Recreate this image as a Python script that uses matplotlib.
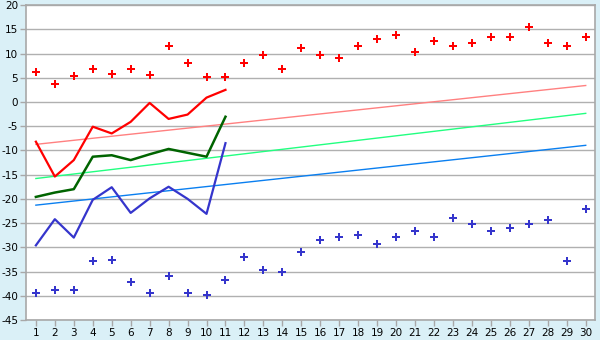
import matplotlib
matplotlib.use("Agg")
import matplotlib.pyplot as plt

plt.rcParams["axes.unicode_minus"] = False

days = list(range(1, 31))
max_pts = [6.1, 3.8, 5.3, 6.9, 5.7, 6.9, 5.5, 11.5, 8.0, 5.1, 5.1, 8.0, 9.6, 6.9, 11.1,
           9.6, 9.0, 11.5, 13.1, 13.9, 10.4, 12.5, 11.5, 12.1, 13.5, 13.5, 15.4, 12.1, 11.5, 13.5]
min_pts = [-39.5, -38.9, -38.9, -32.9, -32.7, -37.2, -39.5, -36.0, -39.5, -39.9, -36.8, -32.1,
           -34.6, -35.0, -31.0, -28.4, -27.9, -27.5, -29.4, -27.9, -26.7, -27.9, -24.0, -25.1,
           -26.7, -26.1, -25.1, -24.4, -32.9, -22.0]
line_days = list(range(1, 12))
max_line = [-8.2, -15.4, -12.0, -5.1, -6.5, -4.1, -0.2, -3.5, -2.6, 0.9, 2.5]
mean_line = [-19.6, -18.7, -18.0, -11.3, -11.0, -12.0, -10.8, -9.7, -10.5, -11.3, -3.05]
min_line = [-29.6, -24.2, -28.0, -20.2, -17.6, -22.9, -19.9, -17.5, -20.0, -23.1, -8.5]
trend_days = [1, 30]
trend_max = [-8.75, 3.4]
trend_mean = [-15.8, -2.35]
trend_min = [-21.3, -8.95]
yticks = list(range(-45, 21, 5))

fig = plt.figure(figsize=(6, 3.4), dpi=100)
fig.patch.set_facecolor("#DAF0F7")
ax = fig.add_axes([0.044, 0.059, 0.948, 0.926])
ax.set_facecolor("white")

ax.set_xlim(0.5, 30.5)
ax.set_ylim(-45, 20)
ax.set_yticks(yticks)
ax.set_xticks(days)
ax.yaxis.grid(True, color="#B0B0B0", linewidth=1)
ax.set_axisbelow(True)

ax.plot(trend_days, trend_max, color="#FF8080", linewidth=1)
ax.plot(trend_days, trend_mean, color="#22FF80", linewidth=1)
ax.plot(trend_days, trend_min, color="#0A7FF0", linewidth=1)

ax.plot(line_days, max_line, color="#FF0000", linewidth=1.6)
ax.plot(line_days, mean_line, color="#006400", linewidth=1.8)
ax.plot(line_days, min_line, color="#3535CC", linewidth=1.6)

ax.plot(days, max_pts, linestyle="none", marker="P", markersize=5.2, color="#FF0000",
        markeredgewidth=0)
ax.plot(days, min_pts, linestyle="none", marker="P", markersize=5.2, color="#3535CC",
        markeredgewidth=0)

for s in ax.spines.values():
    s.set_color("#A8A8A8")
    s.set_linewidth(1.2)
ax.tick_params(axis="both", colors="#A8A8A8", labelcolor="black", labelsize=7.5,
               length=4, width=1, pad=2)

fig.savefig("out.png", dpi=100, facecolor=fig.get_facecolor())
